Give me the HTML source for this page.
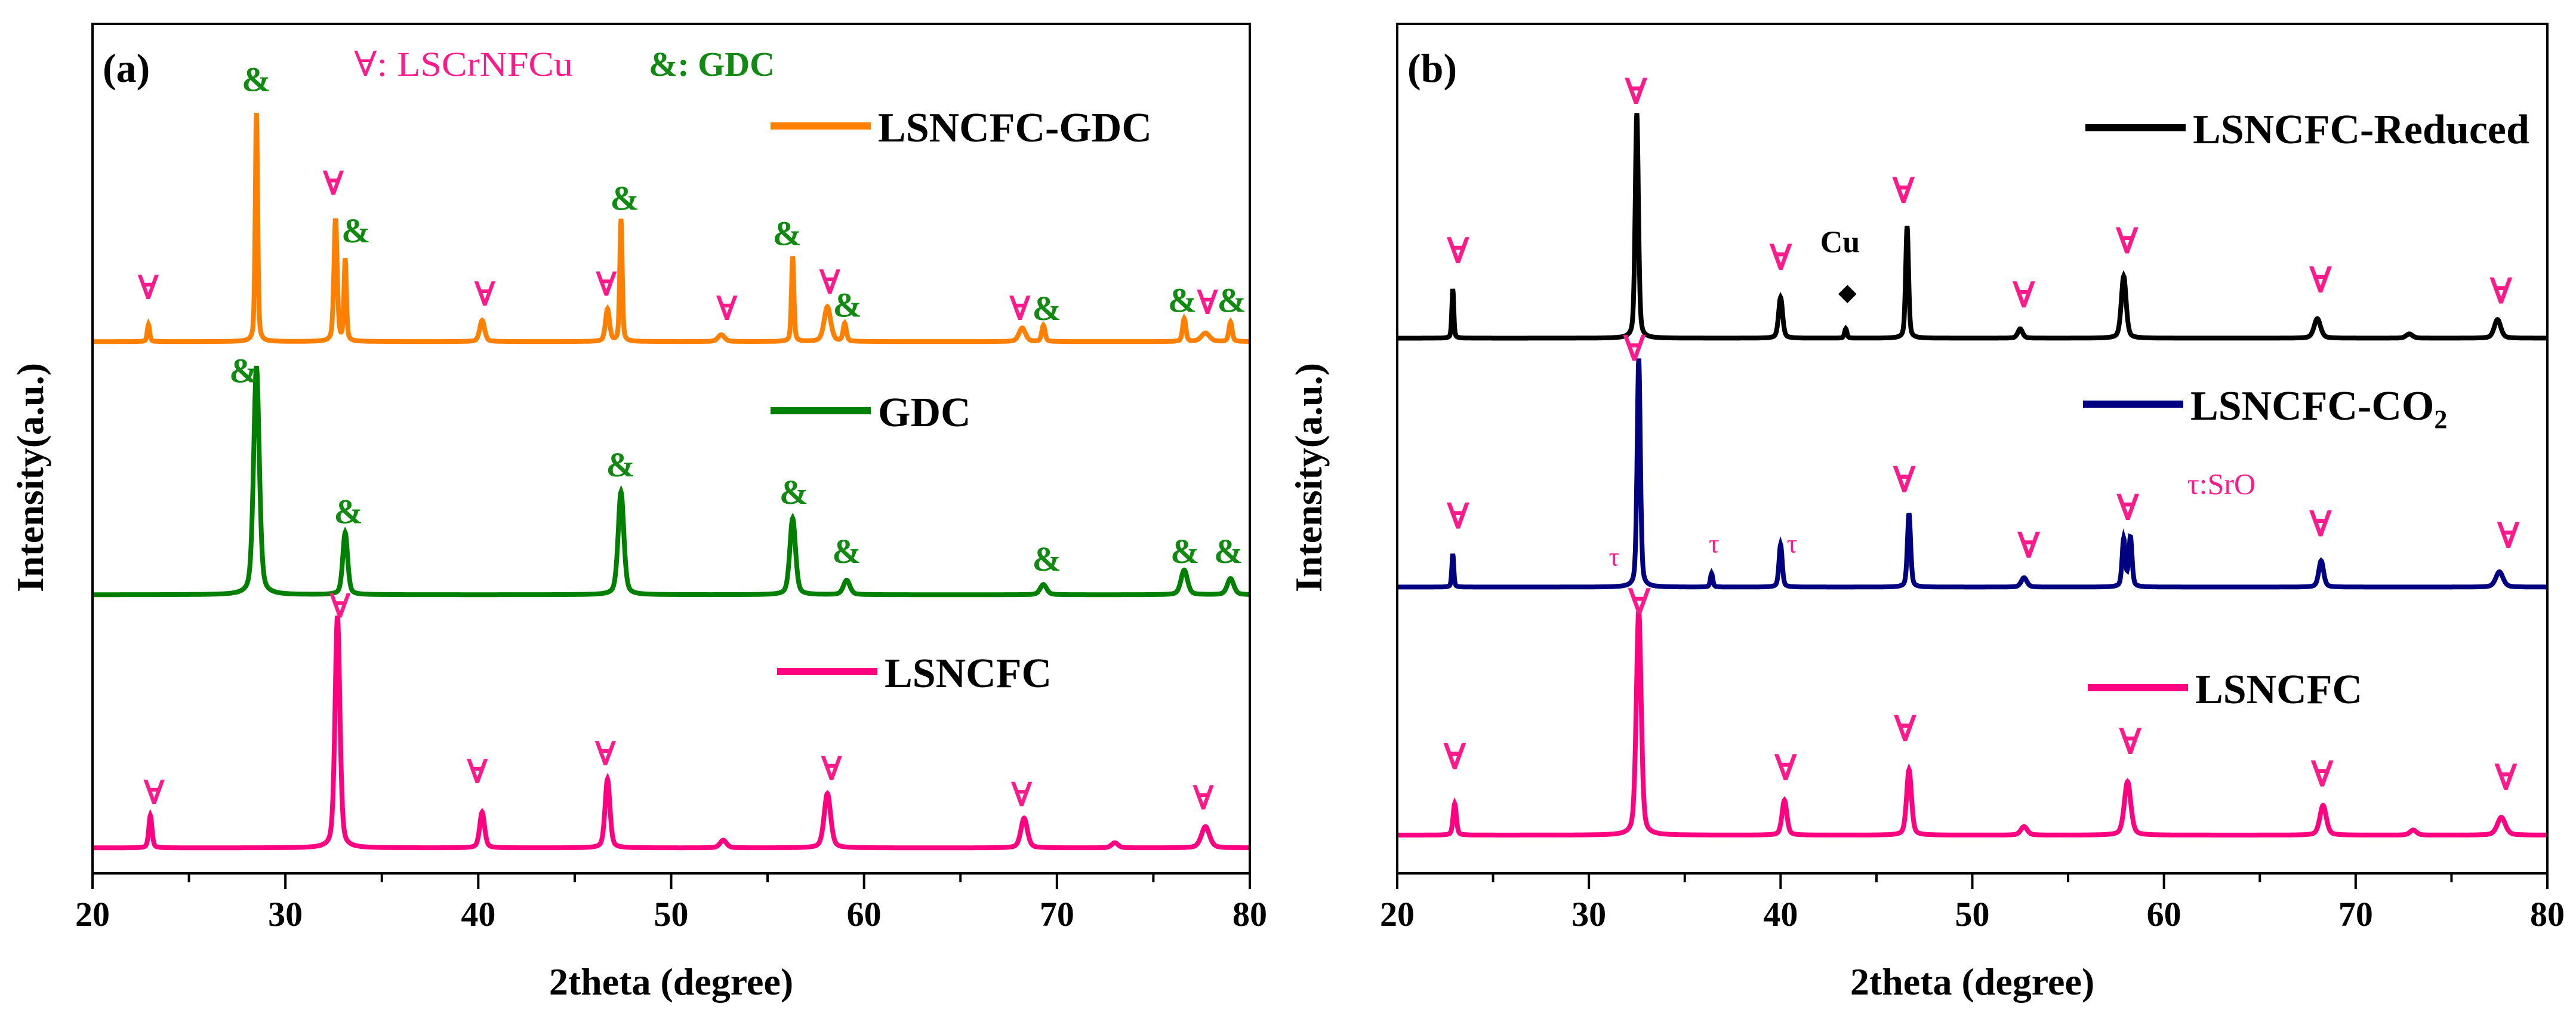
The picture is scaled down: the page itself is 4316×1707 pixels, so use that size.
<!DOCTYPE html>
<html><head><meta charset="utf-8">
<style>
html,body{margin:0;padding:0;background:#fff;}
svg{display:block;}
text{font-family:"Liberation Serif","DejaVu Serif",serif;}
</style></head>
<body>
<svg id="chart" width="4316" height="1707" viewBox="0 0 4316 1707" xmlns="http://www.w3.org/2000/svg">
<g id="pa"></g>
<g id="pb"></g>
</svg>
<script>
// ---- data: peak positions (2theta), heights (a.u.), widths (deg) ----
const xTicks = [20,30,40,50,60,70,80];
// Panel a
const aGdcMixPos = [22.9,28.5,32.6,33.1,40.2,46.7,47.4,52.6,56.3,58.1,59.0,68.2,69.3,76.6,77.7,79.0];
const aGdcMixH   = [2.0,26.9,14.4,9.6,2.5,3.8,14.4,0.8,10.0,4.1,2.1,1.6,1.9,2.7,1.0,2.3];
const aGdcMixW   = [0.15,0.15,0.2,0.15,0.3,0.25,0.15,0.4,0.15,0.4,0.2,0.4,0.2,0.2,0.5,0.2];
const aGdcMixBase = 62.6;
const aGdcPos = [28.5,33.1,47.4,56.3,59.1,69.3,76.6,79.0];
const aGdcH   = [26.9,7.3,12.1,9.0,1.7,1.2,2.9,1.9];
const aGdcW   = [0.35,0.3,0.35,0.35,0.4,0.4,0.4,0.4];
const aGdcBase = 32.8;
const aLsPos = [23.0,32.7,40.2,46.7,52.7,58.1,68.3,73.0,77.7];
const aLsH   = [3.8,27.3,4.2,8.1,0.9,6.4,3.5,0.6,2.5];
const aLsW   = [0.2,0.3,0.3,0.3,0.4,0.4,0.4,0.4,0.5];
const aLsBase = 3.0;
// Panel b
const bRedPos = [22.9,32.5,40.0,43.4,46.6,52.5,57.9,68.0,72.8,77.4];
const bRedH   = [5.8,26.5,4.8,1.1,13.2,1.1,7.3,2.3,0.5,2.2];
const bRedW   = [0.12,0.2,0.25,0.15,0.18,0.3,0.3,0.4,0.4,0.4];
const bRedBase = 63.0;
const bCoPos = [22.9,32.6,36.4,40.0,46.7,52.7,57.9,58.25,68.2,77.5];
const bCoH   = [3.9,26.9,1.6,5.0,8.7,1.1,5.6,5.8,3.1,1.8];
const bCoW   = [0.12,0.2,0.15,0.2,0.2,0.35,0.2,0.2,0.3,0.45];
const bCoBase = 33.7;
const bLsPos = [23.0,32.6,40.2,46.7,52.7,58.1,68.3,73.0,77.6];
const bLsH   = [3.7,26.5,4.1,7.7,1.0,6.3,3.5,0.6,2.1];
const bLsW   = [0.2,0.3,0.3,0.3,0.4,0.4,0.4,0.4,0.5];
const bLsBase = 4.5;

const NS="http://www.w3.org/2000/svg";
function mk(parent,tag,attrs,txt){const e=document.createElementNS(NS,tag);for(const k in attrs)e.setAttribute(k,attrs[k]);if(txt!==undefined)e.textContent=txt;parent.appendChild(e);return e;}

const TOP=40, BOT=1463;
function yS(v){return BOT-v*(BOT-TOP)/100;}

function profile(x,pos,h,w){
  let s=0;
  for(let i=0;i<pos.length;i++){
    const d=(x-pos[i])/(w[i]/2);
    s+=h[i]*(0.6*Math.exp(-0.693*d*d)+0.4/(1+d*d));
  }
  return s;
}

function panel(g,L,R,letter,series,legends,ytitleX,xtitle){
  const xS=v=>L+(v-20)*(R-L)/60;
  // curves
  series.forEach(s=>{
    let d="";
    for(let x=20;x<=80.0001;x+=0.02){
      const y=yS(s.base+profile(x,s.pos,s.h,s.w));
      d+=(d?"L":"M")+xS(x).toFixed(1)+","+y.toFixed(1);
    }
    const p=mk(g,"path",{d:d,fill:"none",stroke:s.color,"stroke-width":8,"stroke-linejoin":"miter"});
    
    
  });
  // frame
  const fr=mk(g,"rect",{x:L,y:TOP,width:R-L,height:BOT-TOP,fill:"none",stroke:"#000","stroke-width":4});
  
  
  // ticks
  for(let t=20;t<=80;t+=5){
    const major=(t%10===0);
    const tk=mk(g,"line",{x1:xS(t),x2:xS(t),y1:BOT,y2:BOT+(major?26:15),stroke:"#000","stroke-width":4});
    
    
  }
  xTicks.forEach(t=>{
    const tl=mk(g,"text",{x:xS(t),y:1551,"font-size":58,"font-weight":"bold","text-anchor":"middle"},String(t));
    
    
  });
  const xt=mk(g,"text",{x:(L+R)/2,y:1666,"font-size":64,"font-weight":"bold","text-anchor":"middle"},"2theta (degree)");
  
  
  const yt=mk(g,"text",{x:0,y:0,"font-size":64,"font-weight":"bold","text-anchor":"middle",transform:"translate("+ytitleX+",800) rotate(-90)"},"Intensity(a.u.)");
  
  
  const pl=mk(g,"text",{x:L+17,y:137,"font-size":68,"font-weight":"bold"},letter);
  
  
  legends.forEach(l=>{
    const ln=mk(g,"line",{x1:l.x1,x2:l.x1+168,y1:l.y,y2:l.y,stroke:l.color,"stroke-width":12});
    
    
    const tx=mk(g,"text",{x:l.x1+180,y:l.y+26,"font-size":70,"font-weight":"bold"},l.text);
    
    
    if(l.sub){const ts=mk(tx,"tspan",{"font-size":44,dy:14},l.sub);}
  });
  return xS;
}

const ga=document.getElementById("pa");
panel(ga,155,2094,"(a)",[
  {name:"lsncfc-gdc-curve",pos:aGdcMixPos,h:aGdcMixH,w:aGdcMixW,base:aGdcMixBase,color:"#ff8000"},
  {name:"gdc-curve",pos:aGdcPos,h:aGdcH,w:aGdcW,base:aGdcBase,color:"#008000"},
  {name:"lsncfc-curve",pos:aLsPos,h:aLsH,w:aLsW,base:aLsBase,color:"#ff0080"}
],[
  {x1:1291,y:211,color:"#ff8000",text:"LSNCFC-GDC"},
  {x1:1291,y:688,color:"#008000",text:"GDC"},
  {x1:1302,y:1125,color:"#ff0080",text:"LSNCFC"}
],72,"");
const gb=document.getElementById("pb");
panel(gb,2341,4268,"(b)",[
  {name:"lsncfc-reduced-curve",pos:bRedPos,h:bRedH,w:bRedW,base:bRedBase,color:"#000000"},
  {name:"lsncfc-co2-curve",pos:bCoPos,h:bCoH,w:bCoW,base:bCoBase,color:"#000080"},
  {name:"lsncfc-curve-b",pos:bLsPos,h:bLsH,w:bLsW,base:bLsBase,color:"#ff0080"}
],[
  {x1:3494,y:214,color:"#000000",text:"LSNCFC-Reduced"},
  {x1:3490,y:677,color:"#000080",text:"LSNCFC-CO",sub:"2"},
  {x1:3498,y:1152,color:"#ff0080",text:"LSNCFC"}
],2214,"");

// ---- annotations (pixel positions from reference layout) ----
const PINK="#ff1a8c", GREEN="#108a10";
function mark(g,x,y,ch,color,size,weight,name){
  const t=mk(g,"text",{x:x,y:y,"font-size":size,"font-weight":weight,fill:color,"text-anchor":"middle"},ch);
  
  
}
const aMarks=[
 [177,460,"∀"],[306,140,"&"],[398,300,"∀"],[425,373,"&"],[579,470,"∀"],[746,323,"&"],[724,455,"∀"],[868,492,"∀"],
 [940,377,"&"],[991,452,"∀"],[1012,487,"&"],[1218,492,"∀"],[1250,492,"&"],[1412,480,"&"],[1442,483,"∀"],[1471,480,"&"],
 [291,588,"&"],[416,805,"&"],[741,733,"&"],[948,775,"&"],[1011,866,"&"],[1250,878,"&"],[1415,866,"&"],[1467,866,"&"],
 [406,950,"∀"],[184,1237,"∀"],[570,1205,"∀"],[723,1177,"∀"],[993,1200,"∀"],[1220,1240,"∀"],[1437,1245,"∀"]
];
aMarks.forEach(m=>{
  const isA=m[2]==="∀";
  mark(ga,m[0]*1.403,m[1]*1.089,m[2],isA?PINK:GREEN,isA?56:58,"bold",isA?"phase-marker-lscrnfcu":"phase-marker-gdc");
});
const k1=mk(ga,"text",{x:593,y:127,"font-size":58,fill:PINK,textLength:367,lengthAdjust:"spacingAndGlyphs"},"∀: LSCrNFCu");


const k2=mk(ga,"text",{x:1087,y:127,"font-size":58,"font-weight":"bold",fill:GREEN},"&: GDC");



const bMarks=[
 [193,405],[412,160],[590,415],[741,312],[889,473],[1016,390],[1254,450],[1476,467],
 [410,555],[193,813],[742,757],[895,858],[1017,800],[1254,825],[1485,843],
 [416,945],[189,1183],[596,1200],[743,1140],[1020,1160],[1256,1210],[1482,1215]
];
bMarks.forEach(m=>mark(gb,2180+m[0]*1.362,m[1]*1.089,"∀",PINK,60,"bold","phase-marker-perovskite"));
[[385,870],[508,850],[604,850]].forEach(m=>mark(gb,2180+m[0]*1.362,m[1]*1.089,"τ",PINK,44,"normal","phase-marker-sro"));
mark(gb,2180+663*1.362,388*1.089,"Cu","#000",52,"bold","cu-label");
mark(gb,2180+672*1.362,462*1.089,"◆","#000",40,"normal","cu-marker");
const sk=mk(gb,"text",{x:2180+1090*1.362,y:760*1.089,"font-size":50,fill:PINK},"τ:SrO");


</script>
</body></html>
